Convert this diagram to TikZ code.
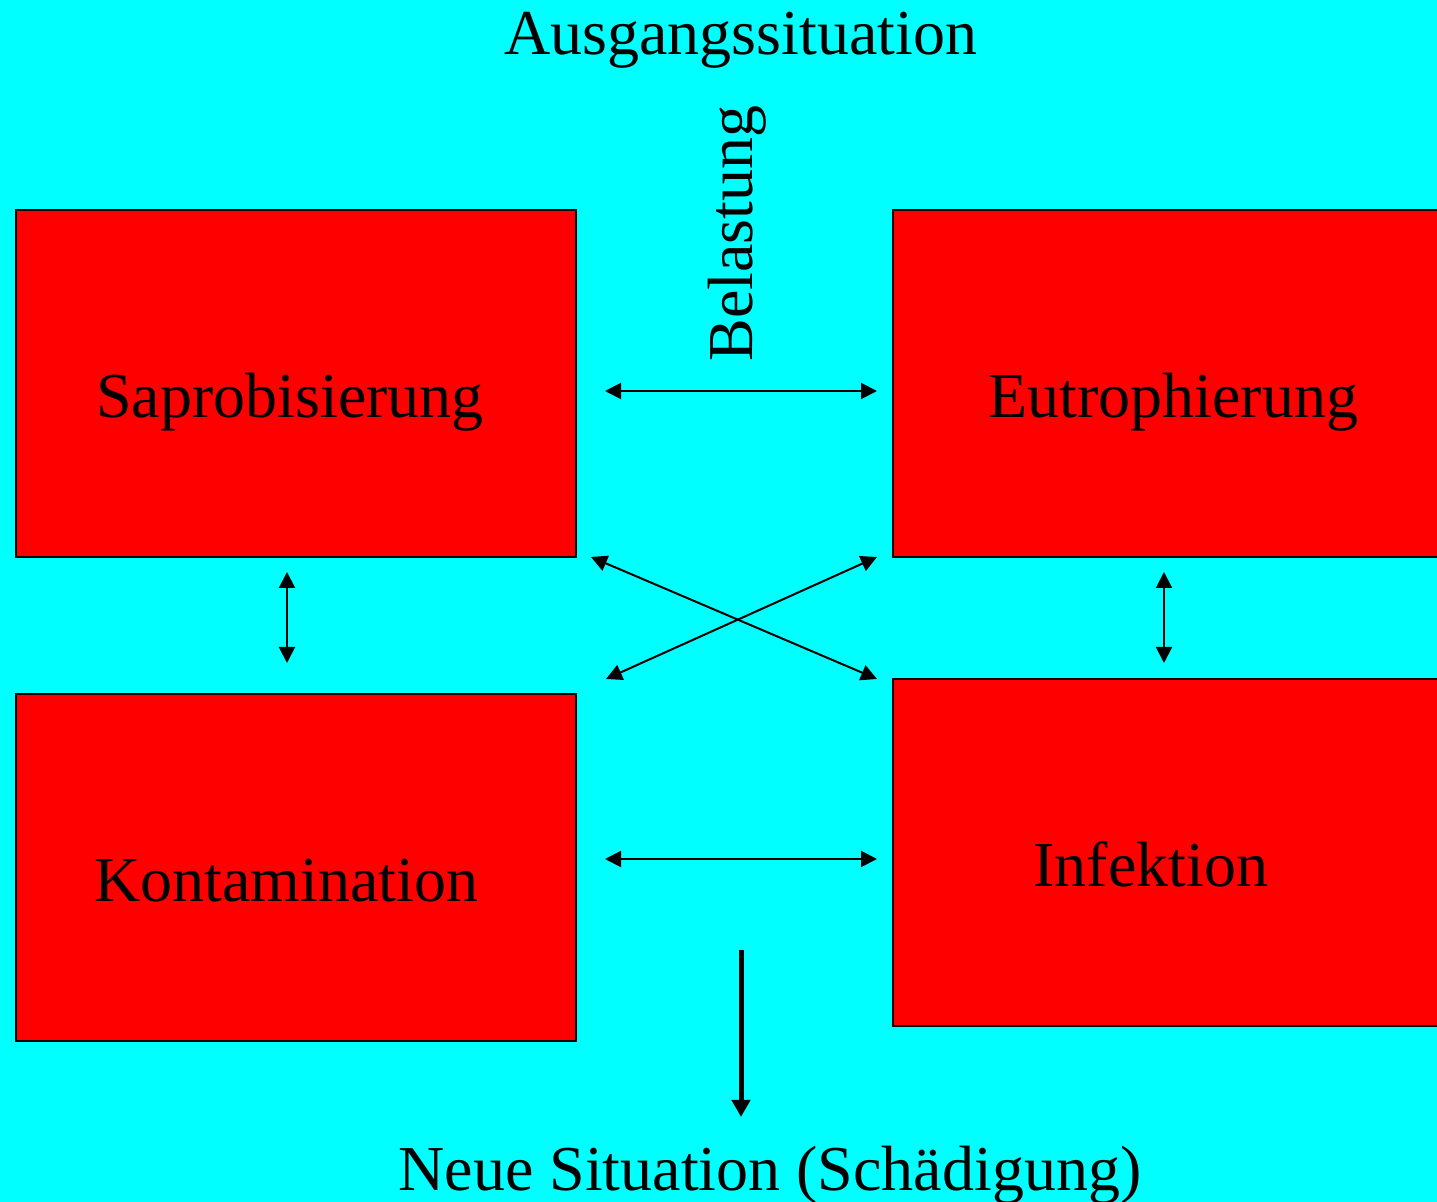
\documentclass[tikz,border=0pt]{standalone}
\usepackage{fontspec}
\setmainfont{Liberation Serif}
\usetikzlibrary{arrows.meta}
\definecolor{bgcyan}{RGB}{0,255,255}
\definecolor{boxred}{RGB}{255,0,0}
\begin{document}
\begin{tikzpicture}[x=0.5pt,y=-0.5pt,
  box/.style={draw=black,line width=1pt,fill=boxred,rectangle,inner sep=0pt,anchor=north west},
  lbl/.style={font=\fontsize{32}{38}\selectfont,inner sep=0pt,anchor=base west},
  dbl/.style={line width=1pt,{Triangle[length=8pt,width=8pt]}-{Triangle[length=8pt,width=8pt]}},
  single/.style={line width=2.5pt,-{Triangle[length=8.5pt,width=9pt]}}]
\fill[bgcyan] (0,0) rectangle (1437,1202);
\useasboundingbox (0,0) rectangle (1437,1202);
% boxes
\node[box,minimum width=280pt,minimum height=173.5pt] (sap) at (15,209) {};
\node[box,minimum width=280pt,minimum height=173.5pt] (eut) at (892,209) {};
\node[box,minimum width=280pt,minimum height=173.5pt] (kon) at (15,693) {};
\node[box,minimum width=280pt,minimum height=173.5pt] (inf) at (892,678) {};
% texts
\node[lbl] (tsap) at (96,418) {Saprobisierung};
\node[lbl] (teut) at (988,418) {Eutrophierung};
\node[lbl] (tkon) at (94,902) {Kontamination};
\node[lbl] (tinf) at (1033,887) {Infektion};
\node[lbl] (aus) at (504,55) {Ausgangssituation};
\node[lbl,rotate=90] (bel) at (752,362) {Belastung};
\node[lbl] (neu) at (398,1191) {Neue Situation (Schädigung)};
% arrow end points
\coordinate (h1a) at (605,391); \coordinate (h1b) at (877,391);
\coordinate (h2a) at (605,859); \coordinate (h2b) at (877,859);
\coordinate (c1a) at (591,557); \coordinate (c1b) at (877,679);
\coordinate (c2a) at (606,679); \coordinate (c2b) at (877,557);
\coordinate (v1a) at (287,572); \coordinate (v1b) at (287,663);
\coordinate (v2a) at (1164,572); \coordinate (v2b) at (1164,663);
\coordinate (da) at (741,950); \coordinate (db) at (741,1117);
\draw[dbl] (h1a) -- (h1b);
\draw[dbl] (h2a) -- (h2b);
\draw[dbl] (c1a) -- (c1b);
\draw[dbl] (c2a) -- (c2b);
\draw[dbl] (v1a) -- (v1b);
\draw[dbl] (v2a) -- (v2b);
\draw[single] (da) -- (db);
\end{tikzpicture}
\end{document}
